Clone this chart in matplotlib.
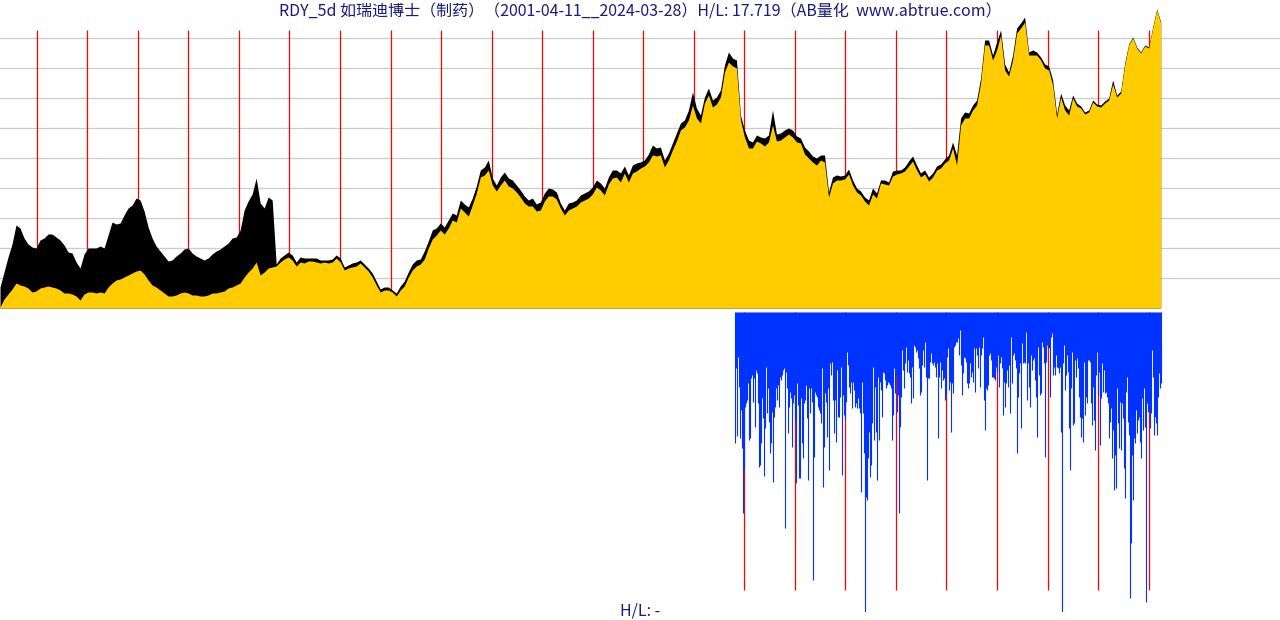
import numpy as np
import pandas as pd
import matplotlib
matplotlib.use("Agg")
import matplotlib.pyplot as plt
import matplotlib.dates as mdates

plt.rcParams['font.family'] = ['Noto Sans CJK SC', 'DejaVu Sans']

TITLE = "RDY_5d 如瑞迪博士（制药）（2001-04-11__2024-03-28）H/L: 17.719（AB量化  www.abtrue.com）"
SUBTITLE = "H/L: -"
START = "2001-04-11"
END = "2024-03-28"
LOWER_START = "2015-10-26"

# weekly closes (yellow) and highs (black), sampled evenly over the period
close = [1, 9, 14, 19, 25, 23, 22, 20, 16, 17, 20, 21, 22, 21, 20, 18, 15, 15, 14, 12,
         8, 14, 16, 16, 15, 16, 15, 21, 25, 28, 29, 31, 33, 35, 37, 38, 34, 28, 23, 21,
         18, 15, 12, 12, 13, 15, 16, 15, 13, 13, 12, 12, 13, 15, 15, 16, 17, 20, 21, 23,
         25, 31, 36, 40, 46, 33, 36, 40, 41, 42, 46, 49, 51, 48, 42, 46, 45, 47, 47, 46,
         45, 46, 45, 46, 50, 46, 38, 40, 41, 42, 45, 41, 37, 31, 23, 16, 18, 18, 16, 12,
         18, 22, 31, 38, 42, 44, 49, 60, 69, 73, 78, 74, 80, 88, 86, 100, 96, 92, 103, 115,
         131, 133, 138, 123, 117, 123, 128, 122, 120, 116, 111, 105, 102, 102, 97, 98, 107, 112, 112, 109,
         100, 93, 98, 100, 102, 106, 108, 110, 114, 121, 118, 113, 124, 130, 131, 126, 135, 126, 135, 137,
         140, 142, 146, 153, 152, 153, 141, 148, 158, 167, 178, 181, 188, 203, 190, 185, 205, 213, 201, 204,
         211, 236, 246, 242, 240, 188, 171, 160, 160, 167, 165, 162, 166, 183, 167, 168, 171, 174, 171, 166,
         165, 154, 150, 146, 143, 148, 146, 111, 125, 128, 128, 129, 134, 123, 116, 113, 107, 103, 114, 110,
         125, 124, 123, 132, 134, 135, 137, 142, 147, 138, 131, 134, 127, 131, 138, 140, 145, 148, 160, 143,
         183, 190, 190, 198, 203, 225, 263, 263, 248, 258, 273, 238, 232, 248, 275, 280, 286, 253, 253, 253,
         248, 240, 238, 223, 190, 211, 198, 193, 210, 202, 200, 194, 196, 206, 202, 201, 205, 208, 224, 211,
         215, 243, 263, 270, 260, 255, 262, 260, 280, 298, 285]

high = [21, 36, 51, 64, 83, 80, 70, 64, 61, 60, 68, 70, 74, 74, 71, 68, 63, 56, 55, 46,
        40, 54, 60, 60, 60, 62, 60, 73, 86, 84, 85, 93, 100, 103, 110, 108, 97, 81, 70, 62,
        57, 52, 47, 48, 52, 55, 59, 60, 55, 52, 50, 48, 50, 54, 57, 59, 62, 65, 70, 71,
        78, 98, 107, 114, 130, 105, 100, 111, 108, 44, 50, 53, 56, 53, 46, 51, 50, 50, 50, 50,
        48, 48, 48, 49, 53, 50, 41, 43, 45, 46, 48, 44, 40, 35, 27, 19, 21, 21, 18, 15,
        22, 27, 36, 44, 48, 49, 57, 67, 78, 80, 85, 81, 88, 95, 93, 108, 104, 101, 110, 122,
        138, 141, 148, 130, 123, 131, 136, 130, 128, 123, 118, 112, 108, 110, 104, 106, 115, 120, 119, 116,
        105, 98, 105, 106, 108, 113, 115, 117, 121, 128, 125, 120, 131, 138, 138, 135, 142, 133, 143, 145,
        146, 148, 154, 163, 160, 161, 148, 155, 165, 175, 185, 188, 198, 216, 200, 193, 211, 220, 208, 211,
        218, 243, 256, 250, 248, 193, 178, 168, 166, 173, 171, 170, 173, 198, 174, 175, 178, 180, 178, 172,
        170, 161, 157, 152, 150, 153, 153, 116, 131, 133, 132, 133, 139, 128, 120, 117, 111, 108, 120, 115,
        128, 128, 126, 137, 138, 138, 141, 147, 152, 143, 135, 138, 131, 135, 142, 144, 149, 153, 166, 153,
        190, 196, 195, 203, 208, 230, 268, 268, 253, 266, 278, 244, 236, 253, 280, 285, 291, 256, 258, 256,
        251, 244, 242, 228, 194, 215, 203, 198, 213, 205, 202, 196, 198, 208, 204, 203, 207, 210, 228, 213,
        217, 245, 264, 271, 261, 256, 263, 261, 281, 299, 286]

# lower panel: weekly downward bars (depth below the top line)
depth = [131, 56, 124, 45, 75, 126, 98, 136, 201, 158, 95, 91, 88, 71, 128, 126, 66, 63, 90, 66,
         115, 58, 61, 91, 155, 153, 131, 86, 106, 164, 116, 55, 101, 76, 110, 141, 131, 100, 170, 105,
         95, 76, 88, 73, 95, 65, 68, 63, 58, 56, 216, 60, 76, 121, 95, 80, 86, 135, 91, 83,
         108, 171, 71, 93, 166, 166, 86, 131, 146, 91, 88, 73, 106, 168, 76, 101, 76, 90, 268, 145,
         80, 83, 85, 95, 98, 101, 111, 56, 175, 135, 81, 90, 125, 76, 158, 51, 63, 50, 88, 121,
         88, 130, 58, 105, 105, 85, 55, 163, 83, 103, 108, 90, 40, 53, 75, 81, 70, 96, 70, 78,
         95, 91, 96, 86, 96, 101, 180, 70, 101, 141, 301, 185, 188, 146, 120, 165, 153, 111, 55, 128,
         75, 120, 168, 65, 128, 70, 78, 105, 60, 61, 68, 76, 73, 70, 71, 73, 76, 128, 103, 56,
         81, 63, 100, 83, 201, 115, 85, 38, 58, 76, 51, 35, 60, 48, 61, 65, 91, 55, 86, 33,
         35, 40, 38, 46, 56, 83, 80, 53, 38, 55, 30, 65, 168, 66, 66, 50, 41, 51, 53, 50,
         55, 65, 51, 126, 65, 50, 76, 58, 68, 66, 88, 83, 45, 36, 78, 70, 120, 71, 81, 35,
         33, 30, 30, 26, 43, 18, 53, 83, 61, 45, 46, 50, 71, 76, 71, 51, 65, 60, 70, 36,
         80, 36, 43, 56, 35, 75, 43, 36, 25, 88, 118, 76, 78, 73, 43, 41, 48, 65, 65, 66,
         68, 55, 60, 43, 75, 51, 45, 56, 103, 70, 95, 71, 58, 75, 53, 101, 25, 71, 43, 41,
         48, 56, 141, 85, 61, 51, 116, 31, 51, 50, 51, 20, 88, 51, 75, 95, 43, 58, 48, 46,
         68, 85, 125, 35, 63, 83, 81, 30, 35, 51, 145, 50, 33, 35, 36, 85, 25, 21, 63, 55,
         63, 43, 55, 56, 61, 55, 120, 301, 51, 33, 78, 63, 43, 60, 116, 158, 76, 40, 113, 111,
         48, 65, 46, 56, 85, 105, 125, 106, 130, 50, 103, 85, 91, 48, 48, 50, 91, 113, 75, 108,
         138, 63, 40, 83, 60, 133, 86, 51, 80, 58, 81, 80, 85, 91, 126, 110, 96, 146, 118, 178,
         143, 176, 76, 111, 136, 90, 138, 91, 106, 156, 186, 80, 65, 110, 123, 286, 231, 143, 188, 126,
         131, 98, 121, 108, 105, 130, 146, 86, 118, 76, 115, 290, 91, 100, 98, 116, 101, 38, 65, 123,
         105, 111, 123, 85, 61, 76, 71]

YEARS_UP = list(range(2002, 2025))
YEARS_LOW = list(range(2016, 2025))

YELLOW = "#FFCC00"
BLUE = "#0033FF"
RED = "#FF0000"
GRID = "#CCCCCC"
TEXT = "#1A1A80"

W, H = 1280, 620
fig = plt.figure(figsize=(W / 100, H / 100), dpi=100)
fig.patch.set_facecolor("white")

t0 = mdates.date2num(pd.Timestamp(START))
t1 = mdates.date2num(pd.Timestamp(END))
xmax = t0 + (t1 - t0) * 1280 / 1160.7

up_dates = mdates.date2num(pd.date_range(START, END, periods=len(close)))
low_dates = mdates.date2num(pd.date_range(LOWER_START, END, periods=len(depth)))
up_years = [mdates.date2num(pd.Timestamp(f"{y}-01-01")) for y in YEARS_UP]
low_years = [mdates.date2num(pd.Timestamp(f"{y}-01-01")) for y in YEARS_LOW]

# upper panel
ax = fig.add_axes([0, (H - 308) / H, 1, 300 / H])
ax.set_xlim(t0, xmax)
ax.set_ylim(0, 300)
ax.axis("off")
for g in range(30, 300, 30):
    ax.axhline(g, color=GRID, lw=0.9, zorder=0.5)
ax.vlines(up_years, 0, 278, color=RED, lw=0.9, zorder=1)
ax.fill_between(up_dates, 0, high, color="black", lw=0, zorder=2)
ax.fill_between(up_dates, 0, close, color=YELLOW, lw=0, zorder=3)

# lower panel
ax2 = fig.add_axes([0, (H - 612) / H, 1, 300 / H])
ax2.set_xlim(t0, xmax)
ax2.set_ylim(-300, 0)
ax2.axis("off")
ax2.vlines(low_years, -278, 0, color=RED, lw=0.9, zorder=1)
ax2.vlines(low_dates, -np.array(depth), 0, color=BLUE, lw=0.8, zorder=2)

fig.text(0.5, 1 - 12 / H, TITLE, ha="center", va="center", fontsize=11.5, color=TEXT)
fig.text(0.5, 1 - 611 / H, SUBTITLE, ha="center", va="center", fontsize=11.5, color=TEXT)

fig.savefig("out.png", dpi=100, facecolor="white")
